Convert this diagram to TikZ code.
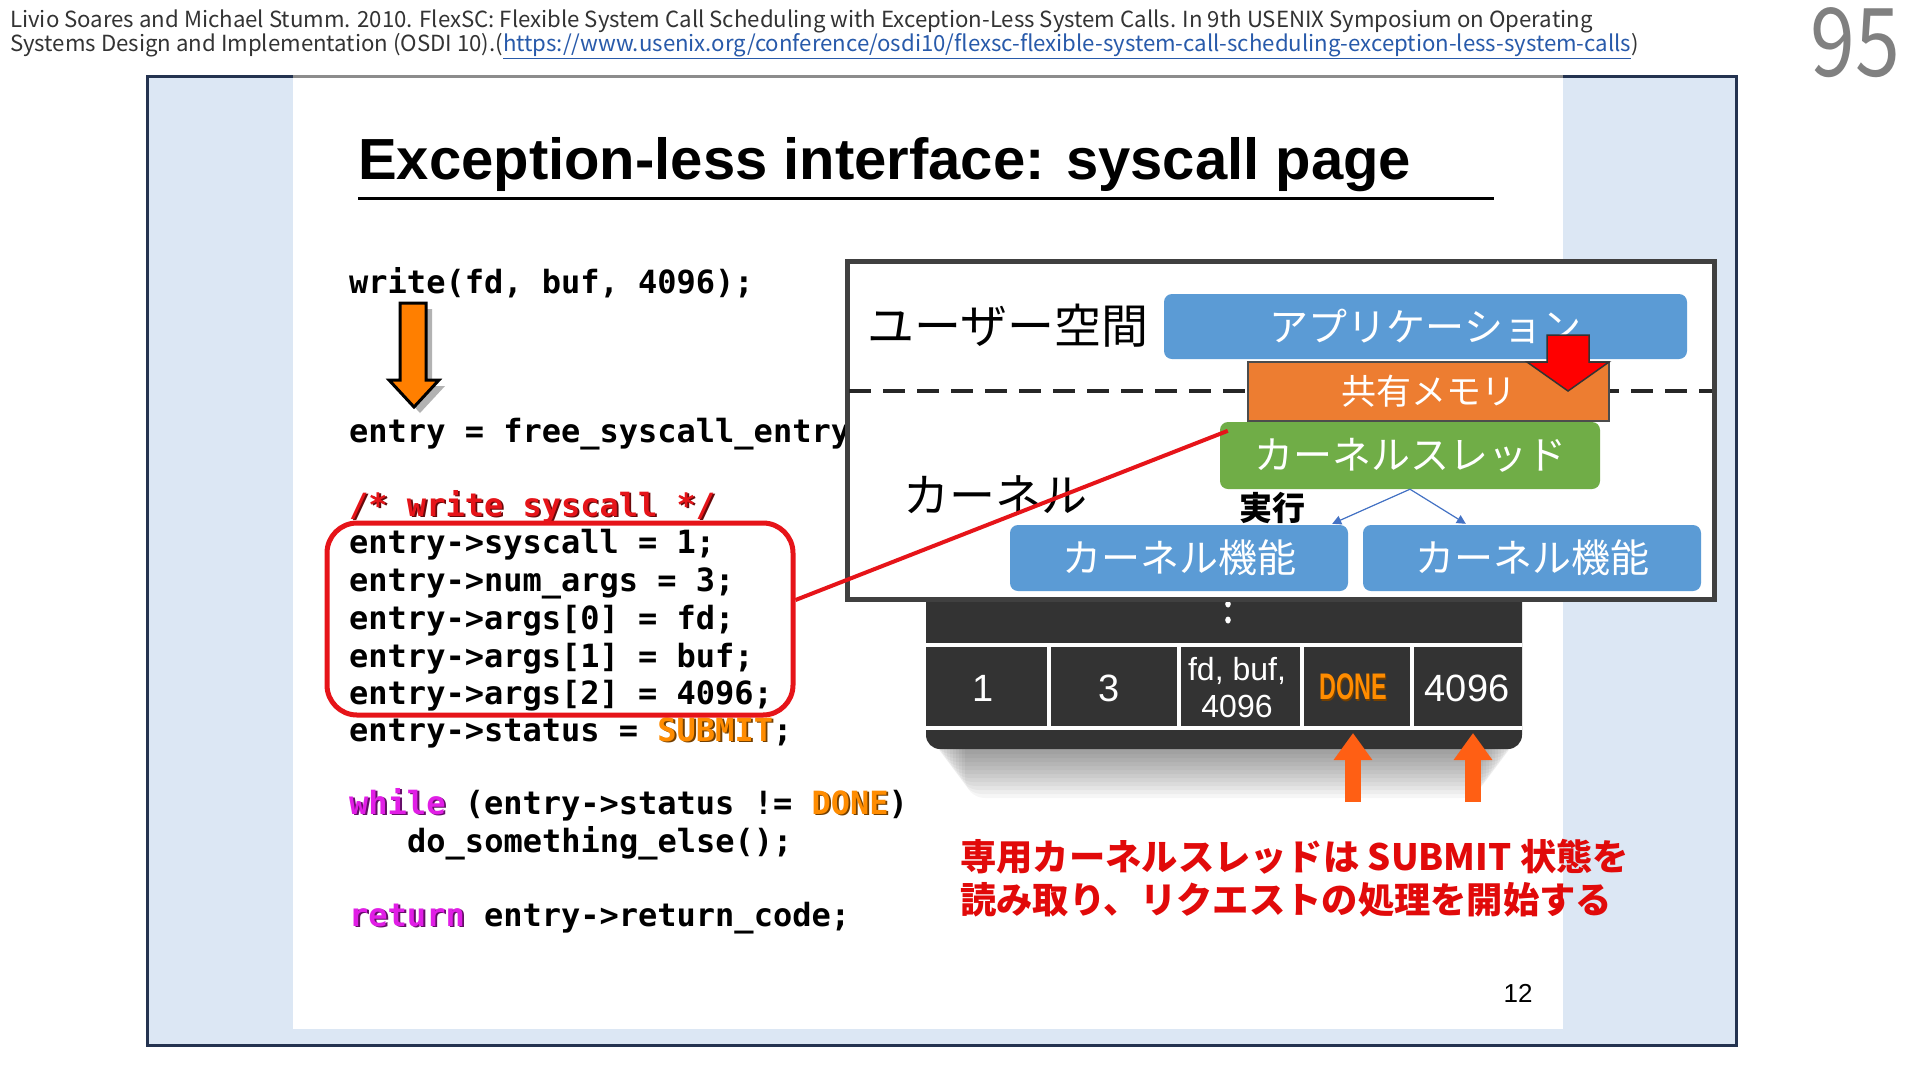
\documentclass[tikz,border=0pt]{standalone}
\usepackage{fontspec}
\setmainfont{Liberation Sans}
\newfontfamily\jpfont{Noto Sans CJK JP}
\newfontfamily\codefont{DejaVu Sans Mono}
\usetikzlibrary{arrows.meta}
\definecolor{framebg}{RGB}{220,231,244}
\definecolor{framenavy}{RGB}{36,51,80}
\definecolor{boxblue}{RGB}{91,155,213}
\definecolor{boxgreen}{RGB}{112,173,71}
\definecolor{boxorange}{RGB}{237,125,49}
\definecolor{tabledark}{RGB}{51,51,51}
\definecolor{codered}{RGB}{230,20,25}
\definecolor{codemagenta}{RGB}{225,30,230}
\definecolor{codeorange}{RGB}{255,140,0}
\definecolor{arroworange}{RGB}{255,127,0}
\definecolor{uparrow}{RGB}{255,95,20}
\definecolor{linkblue}{RGB}{40,90,170}
\definecolor{headgray}{RGB}{51,51,51}
\definecolor{thinblue}{RGB}{68,114,196}
\definecolor{notered}{RGB}{225,10,10}
\newcommand\fsz[1]{\fontsize{#1}{#1}\selectfont}
\newcommand\shadowword[2]{\makebox[0pt][l]{\kern1.8pt\raisebox{-1.8pt}{\color{#1!45!black}#2}}{\color{#1}#2}}
\begin{document}
\begin{tikzpicture}[x=1pt,y=-1pt,
  codeline/.style={anchor=base west, inner sep=0pt, font=\codefont\bfseries\fsz{32}},
  reftext/.style={anchor=base west, inner sep=0pt, font=\jpfont\fsz{22.2}, text=headgray},
  rbox/.style={rounded corners=8pt, inner sep=0pt, text=white, font=\jpfont\fsz{39}},
  celltext/.style={text=white, inner sep=0pt, font=\fsz{38}, align=center},
  notetext/.style={anchor=west, inner sep=0pt, font=\jpfont\bfseries\fsz{36.3}, text=notered},
  upar/.style={draw=uparrow, line width=16pt, -{Triangle[length=27pt,width=37pt]}},
  thinar/.style={draw=thinblue, line width=1.2pt, -{Triangle[length=9pt,width=9pt]}},
  tablerule/.style={white, line width=4pt}
]
\useasboundingbox (0,0) rectangle (1920,1080);
\fill[white] (0,0) rectangle (1920,1080);

% header
\node[reftext] (ref1) at (10,27)
  {Livio Soares and Michael Stumm. 2010. FlexSC: Flexible System Call Scheduling with Exception-Less System Calls. In 9th USENIX Symposium on Operating};
\node[reftext] (ref2) at (10,51)
  {Systems Design and Implementation (OSDI 10).(\textcolor{linkblue}{\underline{https://www.usenix.org/conference/osdi10/flexsc-flexible-system-call-scheduling-exception-less-system-calls}})};
\node[anchor=base east, inner sep=0pt, font=\jpfont\fsz{95}, text=black!50] (pageno) at (1900,76) {\scalebox{0.85}[1]{95}};

% frame and slide
\path[fill=framebg, draw=framenavy, line width=3pt] (147,76) rectangle (1736,1045);
\fill[white] (293,77.5) rectangle (1563,1029);
\draw[black!45, line width=3pt] (293,76) -- (1563,76);

% title
\node[anchor=base west, inner sep=0pt, font=\bfseries\fsz{58}] (title) at (358,179) {Exception-less interface: syscall page};
\draw[line width=3pt] (358,198) -- (1494,198);

% code
\node[codeline] (c1) at (349,293) {write(fd, buf, 4096);};
\node[codeline] (c2) at (349,442) {entry = free\_syscall\_entry};
\node[codeline] (c3) at (349,516) {\shadowword{codered}{/* write syscall */}};
\node[codeline] (c4) at (349,553) {entry->syscall = 1;};
\node[codeline] (c5) at (349,591) {entry->num\_args = 3;};
\node[codeline] (c6) at (349,629) {entry->args[0] = fd;};
\node[codeline] (c7) at (349,667) {entry->args[1] = buf;};
\node[codeline] (c8) at (349,704) {entry->args[2] = 4096;};
\node[codeline] (c9) at (349,741) {entry->status = \shadowword{codeorange}{SUBMIT};};
\node[codeline] (c10) at (349,814) {\shadowword{codemagenta}{while} (entry->status != \shadowword{codeorange}{DONE})};
\node[codeline] (c11) at (407,852) {do\_something\_else();};
\node[codeline] (c12) at (349,926) {\shadowword{codemagenta}{return} entry->return\_code;};

% orange down arrow
\fill[black!30] (406,309) -- (432,309) -- (432,386) -- (445,386) -- (420,413) -- (395,386) -- (406,386) -- cycle;
\filldraw[fill=arroworange, draw=black, line width=3pt, line join=miter] (400,303) -- (426,303) -- (426,380) -- (439,380) -- (414,407) -- (389,380) -- (400,380) -- cycle;

% red code box
\node[draw=codered, line width=5pt, rounded corners=30pt, minimum width=466pt, minimum height=192pt, inner sep=0pt] (codebox) at (560,619) {};

% syscall page table
\foreach \i in {0,...,11} {
  \fill[black, opacity=0.035, rounded corners=20pt] ({932+3*\i},700) rectangle ({1516-3*\i},{754+4*\i});
}
\fill[tabledark, rounded corners=14pt] (926,560) rectangle (1522,749);
\draw[tablerule] (926,645) -- (1522,645);
\draw[tablerule] (926,728) -- (1522,728);
\foreach \x in {1049,1179,1302,1412} \draw[tablerule] (\x,645) -- (\x,728);
\fill[white] (1228,604) ellipse (2.8 and 3.5);
\fill[white] (1228,620) ellipse (2.8 and 3.5);
\node[celltext] (cellA) at (983,688) {1};
\node[celltext] (cellB) at (1109,688) {3};
\node[celltext, font=\fontsize{32}{37}\selectfont] (cellC) at (1237,688) {fd, buf,\\4096};
\node[inner sep=0pt] (cellD) at (1353,688) {\scalebox{0.63}[1]{\fsz{37}\bfseries\shadowword{codeorange}{DONE}}};
\node[celltext] (cellE) at (1467,688) {4096};

% kernel diagram
\node[draw=black!75, line width=5pt, fill=white, minimum width=867pt, minimum height=338pt, inner sep=0pt] (kbox) at (1280.5,430) {};
\draw[black!85, line width=4pt, dash pattern=on 22pt off 12pt] (849,391) -- (1712,391);
\node[inner sep=0pt, font=\jpfont\fsz{47}] (userlbl) at (1008,326) {ユーザー空間};
\node[inner sep=0pt, font=\jpfont\fsz{46}] (kernlbl) at (995,495) {カーネル};
\node[rbox, fill=boxblue, minimum width=523pt, minimum height=65pt] (app) at (1425.5,326.5) {アプリケーション};
\node[fill=boxorange, draw=black!70, line width=1.5pt, minimum width=361pt, minimum height=59pt, inner sep=0pt, text=white, font=\jpfont\fsz{35}] (shm) at (1428.5,391.5) {共有メモリ};
\filldraw[fill=red, draw=black!80, line width=1.5pt, line join=miter] (1547,335) -- (1589,335) -- (1589,362) -- (1609,362) -- (1568,391) -- (1527,362) -- (1547,362) -- cycle;
\node[rbox, fill=boxgreen, minimum width=380pt, minimum height=67pt] (kthread) at (1410,455.5) {カーネルスレッド};
\node[rbox, fill=boxblue, minimum width=338pt, minimum height=66pt] (kf1) at (1179,558) {カーネル機能};
\node[rbox, fill=boxblue, minimum width=338pt, minimum height=66pt] (kf2) at (1532,558) {カーネル機能};
\node[inner sep=0pt, font=\jpfont\bfseries\fsz{33}] (exec) at (1272,508) {実行};
\draw[thinar] (kthread.south) -- ([xshift=-16pt,yshift=1pt]kf1.north east);
\draw[thinar] (kthread.south) -- ([xshift=103pt,yshift=1pt]kf2.north west);

% red connector
\draw[codered, line width=4pt] ([yshift=19pt]codebox.east) -- ([xshift=8pt,yshift=-9pt]kthread.north west);

% up arrows
\coordinate (ua1) at (1353,802);
\coordinate (ua1t) at (1353,733);
\coordinate (ua2) at (1473,802);
\coordinate (ua2t) at (1473,733);
\draw[upar] (ua1) -- (ua1t);
\draw[upar] (ua2) -- (ua2t);

% note
\node[notetext] (note1) at (960,857) {専用カーネルスレッドは SUBMIT 状態を};
\node[notetext] (note2) at (960,900) {読み取り、リクエストの処理を開始する};

\node[inner sep=0pt, font=\fsz{26}] (pnum) at (1518,993) {12};
\end{tikzpicture}
\end{document}
